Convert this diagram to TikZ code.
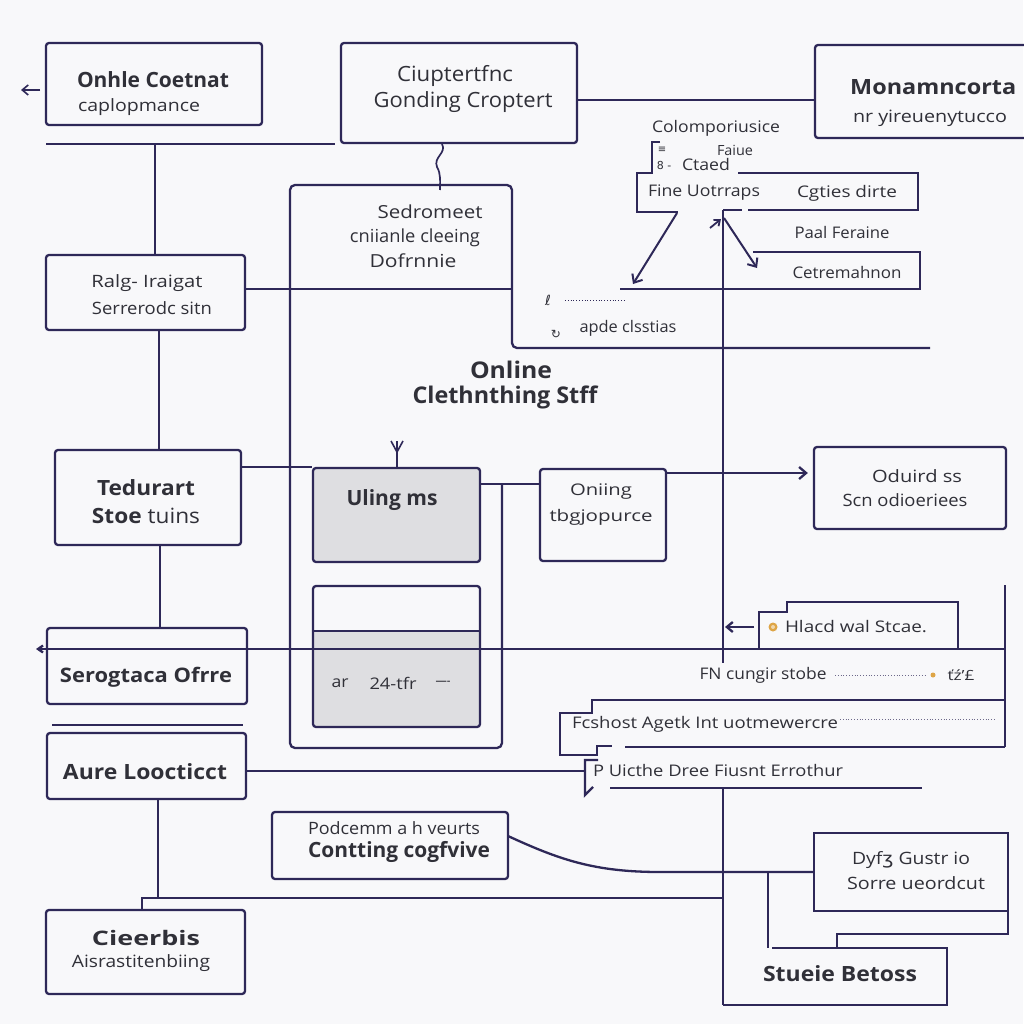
\documentclass[tikz,border=0pt]{standalone}
\usepackage{fontspec}
\setmainfont{Open Sans}
\newfontfamily\dejavu{DejaVu Sans}
\usepackage{graphicx}
\usetikzlibrary{arrows.meta}
\definecolor{lc}{RGB}{46,40,88}
\definecolor{tc}{RGB}{48,48,56}
\definecolor{bgc}{RGB}{248,248,250}
\definecolor{gf}{RGB}{222,222,225}
\definecolor{oc}{RGB}{222,165,70}
\newcommand\fw[2]{\resizebox{#1pt}{\height}{#2}}
\begin{document}
\begin{tikzpicture}[x=1pt,y=-1pt,
  ln/.style={draw=lc,line width=2.3pt},
  box/.style={draw=lc,line width=2.3pt,rounded corners=3pt,inner sep=0pt},
  tx/.style={text=tc,inner sep=0pt},
  nA/.style={tx,font=\fontsize{14}{14}\selectfont},
  nB/.style={tx,font=\fontsize{16}{16}\selectfont},
  nC/.style={tx,font=\fontsize{17}{17}\selectfont},
  nD/.style={tx,font=\fontsize{18}{18}\selectfont},
  nE/.style={tx,font=\fontsize{21}{21}\selectfont},
  bA/.style={tx,font=\fontsize{20}{20}\selectfont\bfseries},
  bB/.style={tx,font=\fontsize{21}{21}\selectfont\bfseries},
  bC/.style={tx,font=\fontsize{23}{23}\selectfont\bfseries},
  arr/.style={-{Straight Barb[length=7pt,width=12pt]}}
]
\fill[bgc] (0,0) rectangle (1023,1024);
\useasboundingbox (0,0) rectangle (1023,1024);

% ---------- boxes ----------
\node[box, minimum width=216pt, minimum height=82pt] (bxA) at (154,84) {};
\node[box, minimum width=236pt, minimum height=100pt] (bxB) at (459,93) {};
\node[box, minimum width=215pt, minimum height=93pt] (bxC) at (922.5,91.5) {};
\node[box, minimum width=199pt, minimum height=75pt] (bxD) at (145.5,292.5) {};
\node[box, minimum width=186pt, minimum height=95pt] (bxE) at (148,497.5) {};
\node[box, minimum width=200pt, minimum height=76pt] (bxF) at (147,666) {};
\node[box, minimum width=199pt, minimum height=66pt] (bxG) at (146.5,766) {};
\node[box, minimum width=199pt, minimum height=84pt] (bxH) at (145.5,952) {};
\node[box, fill=gf, minimum width=167pt, minimum height=94pt] (bxJ) at (396.5,515) {};
\fill[gf, rounded corners=3pt] (313,631) rectangle (480,727);
\node[box, minimum width=167pt, minimum height=141pt] (bxK) at (396.5,656.5) {};
\coordinate (kd) at (313,631);
\draw[ln] (kd) -- (kd -| bxK.east);
\node[box, minimum width=126pt, minimum height=92pt] (bxL) at (603,515) {};
\node[box, minimum width=192pt, minimum height=82pt] (bxM) at (910,488) {};
\node[box, minimum width=236pt, minimum height=67pt] (bxN) at (390,845.5) {};
\node[box, rounded corners=0pt, minimum width=194pt, minimum height=78pt] (bxO) at (911,872) {};

% container (Sedromeet)
\draw[ln, rounded corners=5pt] (502,485) -- (502,748) -- (290,748) -- (290,185) -- (512,185) -- (512,348) -- (930,348);

% Fine Uotrraps shape
\draw[ln] (660,142) -- (652,142) -- (652,173) -- (637,173) -- (637,212) -- (678,212);
\draw[ln] (738,173) -- (918,173) -- (918,210) -- (748,210);
\draw[ln] (723,210) -- (742,210);
% Cetremahnon shape
\draw[ln] (753,252) -- (920,252) -- (920,289) -- (620,289);
% Hlacd shape
\draw[ln] (759,649) -- (759,612) -- (787,612) -- (787,602) -- (958,602) -- (958,649);
% Fcshost shape
\draw[ln] (1005,700) -- (592,700) -- (592,713) -- (560,713) -- (560,755) -- (597,755) -- (597,746) -- (612,746);
\draw[ln] (625,747) -- (1005,747);
% P Uicthe bracket
\draw[ln] (598,760) -- (585,760) -- (585,795) -- (593,787);
% Stueie Betoss shape
\draw[ln] (772,948) -- (947,948) -- (947,1005) -- (723,1005);
\draw[ln] (837,948) -- (837,934) -- (1008,934) -- (1008,911);

% ---------- connectors ----------
\coordinate (aA1) at (40,90); \coordinate (aA2) at (21,90);
\draw[ln, line width=1.6pt, -{Straight Barb[length=6pt,width=10pt]}] (aA1) -- (aA2);
\coordinate (hL) at (46,144); \coordinate (hR) at (335,144);
\draw[ln] (hL) -- (hR);
\coordinate (jA) at (155,144);
\draw[ln] (jA) -- (jA |- bxD.north);
\coordinate (jB) at (577,100);
\draw[ln] (jB) -- (jB -| bxC.west);
\coordinate (sq1) at (442,144); \coordinate (sq2) at (440,190);
\draw[ln, line width=1.7pt] (sq1) .. controls (447,153) and (433,157) .. (437,167) .. controls (441,174) and (440,181) .. (sq2);
\coordinate (jD) at (245,289); \coordinate (sedR) at (512,300);
\draw[ln] (jD) -- (jD -| sedR);
\coordinate (jE) at (159,330);
\draw[ln] (jE) -- (jE |- bxE.north);
\coordinate (jF) at (241,467);
\draw[ln] (jF) -- (jF -| bxJ.west);
\coordinate (jG) at (160,545);
\draw[ln] (jG) -- (jG |- bxF.north);
\coordinate (lL) at (36,649); \coordinate (lR) at (1005,649);
\draw[ln, {Straight Barb[length=5pt,width=7pt]}-] (lL) -- (lR);
\coordinate (sl1) at (52,725); \coordinate (sl2) at (243,725);
\draw[ln] (sl1) -- (sl2);
\coordinate (jH) at (246,771); \coordinate (brk) at (585,771);
\draw[ln] (jH) -- (brk);
\coordinate (jI) at (158,799); \coordinate (jI2) at (158,898);
\draw[ln] (jI) -- (jI2);
\coordinate (jJ) at (142,898); \coordinate (jJ2) at (723,898);
\draw[ln] (jJ |- bxH.north) -- (jJ) -- (jJ2);
\coordinate (uf) at (397,441);
\draw[ln, line width=1.8pt] (uf) -- (uf |- bxJ.north);
\draw[ln, line width=1.6pt] (391,441) -- (397,452) -- (403,441);
\coordinate (jK) at (480,484);
\draw[ln] (jK) -- (jK -| bxL.west);
\coordinate (jL) at (666,473);
\draw[ln, arr, shorten >=5pt] (jL) -- (jL -| bxM.west);
\coordinate (v1) at (723,210); \coordinate (v2) at (723,663);
\draw[ln] (v1) -- (v2);
\coordinate (v3) at (723,788); \coordinate (v4) at (723,1005);
\draw[ln] (v3) -- (v4);
\coordinate (h788a) at (610,788); \coordinate (h788b) at (922,788);
\draw[ln] (h788a) -- (h788b);
\draw[lc, line width=0.8pt, dotted] (565,300) -- (625,300);
\draw[ln, line width=2pt, arr] (677,213) -- (633,284);
\draw[ln, line width=2pt, arr] (724,218) -- (757,268);
\draw[ln, line width=1.8pt, -{Straight Barb[length=5pt,width=8pt]}] (710,228) -- (721,219);
\coordinate (hl1) at (754,627); \coordinate (hl2) at (725,627);
\draw[ln, -{Straight Barb[length=6pt,width=10pt]}] (hl1) -- (hl2);
\coordinate (rv1) at (1005,585); \coordinate (rv2) at (1005,747);
\draw[ln] (rv1) -- (rv2);
\draw[lc!70, line width=0.8pt, dotted] (840,719) -- (995,719);
\draw[lc!70, line width=0.8pt, dotted] (835,675) -- (925,675);
\coordinate (cv) at (508,836);
\draw[ln] (cv) .. controls (560,860) and (595,872) .. (660,872) -- (bxO.west);
\coordinate (j768) at (768,872); \coordinate (j768b) at (768,948);
\draw[ln] (j768) -- (j768b);

% icons
\fill[oc] (773,627) circle (4.5pt);
\fill[oc!45!white] (773,627) circle (2pt);
\fill[oc] (933,675) circle (2.5pt);
\node[tx, font=\dejavu\fontsize{14}{14}\selectfont] (g1) at (548,300) {ℓ};
\node[tx, font=\dejavu\fontsize{12}{12}\selectfont] (g2) at (556,334) {↻};
\node[tx, font=\dejavu\fontsize{10}{10}\selectfont] (g3) at (662,150) {≡~};
\node[tx, font=\dejavu\fontsize{11}{11}\selectfont] (g4) at (664,165) {8 -};

% ---------- texts ----------
\node[bB] (t1) at (153,80) {\fw{152}{Onhle Coetnat}};
\node[nC] (t2) at (139,107) {\fw{122}{caplopmance}};
\node[nE] (t3) at (455,76) {\fw{116}{Ciuptertfnc}};
\node[nE] (t4) at (463,102) {\fw{179}{Gonding Croptert}};
\node[bB, anchor=west] (t5) at (850,87) {\fw{166}{Monamncorta}};
\node[nC] (t6) at (930,118) {\fw{154}{nr yireuenytucco}};
\node[nB] (t7) at (716,128) {\fw{128}{Colomporiusice}};
\node[nA] (t8) at (735,150) {\fw{36}{Faiue}};
\node[nB] (t9) at (706,165) {\fw{48}{Ctaed}};
\node[nB] (t10) at (704,193) {\fw{112}{Fine Uotrraps}};
\node[nB] (t11) at (847,193) {\fw{100}{Cgties dirte}};
\node[nB] (t12) at (842,233) {\fw{95}{Paal Feraine}};
\node[nB] (t13) at (847,272) {\fw{109}{Cetremahnon}};
\node[nD] (t14) at (430,212) {\fw{105}{Sedromeet}};
\node[nD] (t15) at (415,238) {\fw{130}{cniianle cleeing}};
\node[nD] (t16) at (413,261) {\fw{87}{Dofrnnie}};
\node[bC] (t17) at (511,370) {\fw{82}{Online}};
\node[bC] (t18) at (505,397) {\fw{185}{Clethnthing Stff}};
\node[nB] (t19) at (628,328) {\fw{97}{apde clsstias}};
\node[nC] (t20) at (147,283) {\fw{111}{Ralg- Iraigat}};
\node[nC] (t21) at (152,308) {\fw{120}{Serrerodc sitn}};
\node[bB] (t22) at (146,488) {\fw{98}{Tedurart}};
\node[nE] (t23) at (146,516) {\fw{108}{\textbf{Stoe} tuins}};
\node[bB] (t24) at (392,500) {\fw{91}{Uling ms}};
\node[nB] (t25) at (601,492) {\fw{62}{Oniing}};
\node[nB] (t26) at (601,517) {\fw{103}{tbgjopurce}};
\node[nB] (t27) at (340,683) {\fw{17}{ar}};
\node[nB] (t28) at (393,683) {\fw{47}{24-tfr}};
\node[nA] (t29) at (443,683) {\fw{15}{----}};
\node[nC] (t30) at (917,476) {\fw{90}{Oduird ss}};
\node[nC] (t31) at (905,500) {\fw{125}{Scn odioeriees}};
\node[nB] (t32) at (856,627) {\fw{142}{Hlacd wal Stcae.}};
\node[nB] (t33) at (763,675) {\fw{127}{FN cungir stobe}};
\node[nA] (t34) at (961,675) {\fw{27}{ťź'£}};
\node[nB] (t35) at (705,724) {\fw{266}{Fcshost Agetk Int uotmewercre}};
\node[nB] (t36) at (718,770) {\fw{250}{P Uicthe Dree Fiusnt Errothur}};
\node[bA] (t37) at (146,677) {\fw{172}{Serogtaca Ofrre}};
\node[bB] (t38) at (145,772) {\fw{164}{Aure Loocticct}};
\node[nC] (t39) at (394,828) {\fw{172}{Podcemm a h veurts}};
\node[bB] (t40) at (399,852) {\fw{182}{Contting cogfvive}};
\node[bA] (t41) at (146,938) {\fw{108}{Cieerbis}};
\node[nC] (t42) at (141,963) {\fw{138}{Aisrastitenbiing}};
\node[nC] (t43) at (911,860) {\fw{118}{Dyf{\dejavu ʒ} Gustr io}};
\node[nC] (t44) at (916,883) {\fw{138}{Sorre ueordcut}};
\node[bB] (t45) at (840,974) {\fw{154}{Stueie Betoss}};
\end{tikzpicture}
\end{document}
